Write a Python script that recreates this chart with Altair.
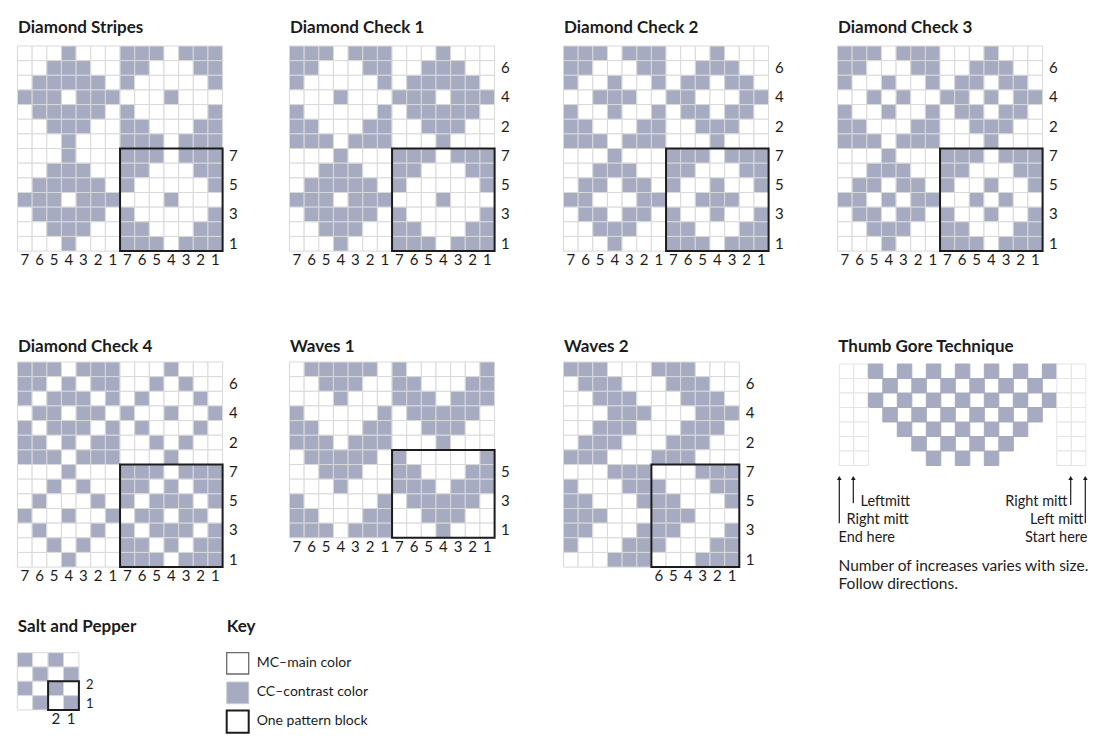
import altair as alt
import pandas as pd

# ---------------- pattern data ('#' = contrast colour, '.' = main colour) ----------------
DIAMOND_STRIPES = [
    "...#...###.###",
    "..###..##...##",
    ".#####.#.....#",
    "###.###...#...",
    ".#####.#.....#",
    "..###..##...##",
    "...#...###.###",
    "...#...###.###",
    "..###..##...##",
    ".#####.#.....#",
    "###.###...#...",
    ".#####.#.....#",
    "..###..##...##",
    "...#...###.###",
]
DIAMOND_CHECK_1 = [
    "###.###...#...",
    "##...##..###..",
    "#.....#.#####.",
    "...#...###.###",
    "#.....#.#####.",
    "##...##..###..",
    "###.###...#...",
    "...#...###.###",
    "..###..##...##",
    ".#####.#.....#",
    "###.###...#...",
    ".#####.#.....#",
    "..###..##...##",
    "...#...###.###",
]
DIAMOND_CHECK_2 = [
    "###.###...#...",
    "##...##..###..",
    "#..#..#.##.##.",
    "..###..##...##",
    "#..#..#.##.##.",
    "##...##..###..",
    "###.###...#...",
    "...#...###.###",
    "..###..##...##",
    ".##.##.#..#..#",
    "##...##..###..",
    ".##.##.#..#..#",
    "..###..##...##",
    "...#...###.###",
]
DIAMOND_CHECK_3 = [
    "###.###...#...",
    "##...##..###..",
    "#..#..#.##.##.",
    "..#.#..##.#.##",
    "#..#..#.##.##.",
    "##...##..###..",
    "###.###...#...",
    "...#...###.###",
    "..###..##...##",
    ".##.##.#..#..#",
    "##.#.##..#.#..",
    ".##.##.#..#..#",
    "..###..##...##",
    "...#...###.###",
]
DIAMOND_CHECK_4 = [
    "###.###...#...",
    "##.#.##..#.#..",
    "#.###.#.#...#.",
    ".##.##.#..#..#",
    "#.###.#.#...#.",
    "##.#.##..#.#..",
    "###.###...#...",
    "...#...###.###",
    "..#.#..##.#.##",
    ".#...#.#.###.#",
    "#..#..#.##.##.",
    ".#...#.#.###.#",
    "..#.#..##.#.##",
    "...#...###.###",
]
WAVES_1 = [
    ".#####.#.....#",
    "..###..##...##",
    "...#...###.###",
    "#.....#.#####.",
    "##...##..###..",
    "###.###...#...",
    ".#####.#.....#",
    "..###..##...##",
    "...#...###.###",
    "#.....#.#####.",
    "##...##..###..",
    "###.###...#...",
]
WAVES_2 = [
    "###...###...",
    ".###...###..",
    "..###...###.",
    "...###...###",
    "..###...###.",
    ".###...###..",
    "###...###...",
    "...###...###",
    "#...###...##",
    "##...###...#",
    "###...###...",
    "##...###...#",
    "#...###...##",
    "...###...###",
]
# 'o' = main colour inside the gore (no grid), ' ' = nothing drawn
THUMB_GORE = [
    "..#o#o#o#o#o#o#..",
    "..o#o#o#o#o#o#o..",
    "..#o#o#o#o#o#o#..",
    ".. #o#o#o#o#o# ..",
    "..  #o#o#o#o#  ..",
    "..   #o#o#o#   ..",
    "..    #o#o#    ..",
]
SALT_AND_PEPPER = [
    "#.#.",
    ".#.#",
    "#.#.",
    ".#.#",
]

TITLES = ["Diamond Stripes", "Diamond Check 1", "Diamond Check 2", "Diamond Check 3",
          "Diamond Check 4", "Waves 1", "Waves 2", "Thumb Gore Technique", "Salt and Pepper"]

BOTTOM_14 = ["7", "6", "5", "4", "3", "2", "1", "7", "6", "5", "4", "3", "2", "1"]
BOTTOM_W2 = ["6", "5", "4", "3", "2", "1"]
BOTTOM_SP = ["2", "1"]

RIGHT_ROWS_FULL = [1, 3, 5, 7, 9, 11, 13]
RIGHT_LABELS_FULL = ["6", "4", "2", "7", "5", "3", "1"]
RIGHT_ROWS_HALF = [7, 9, 11, 13]
RIGHT_LABELS_HALF = ["7", "5", "3", "1"]
RIGHT_ROWS_W1 = [7, 9, 11]
RIGHT_LABELS_W1 = ["5", "3", "1"]
RIGHT_ROWS_SP = [2, 3]
RIGHT_LABELS_SP = ["2", "1"]

KEY_LABELS = ["MC\u2013main color", "CC\u2013contrast color", "One pattern block"]
GORE_NOTES_LEFT = ["Leftmitt", "Right mitt", "End here"]
GORE_NOTES_RIGHT = ["Right mitt", "Left mitt", "Start here"]
GORE_FOOT = ["Number of increases varies with size.", "Follow directions."]

# ---------------- styles / layout ----------------
CC = "#a7abc1"
WHITE = "#ffffff"
GRID = "#d9d9d9"
GRID_LIGHT = "#e4e4e4"
INK = "#1c1c1c"
FONT = "Lato"
C = 14.65

# pattern, title index, x0, y0, cell w, cell h, block (c0, r0, c1, r1), bottom labels (start col), right rows/labels
PANELS = [
    (DIAMOND_STRIPES, 0, 17.5, 46, C, C, (7, 7, 14, 14), (BOTTOM_14, 0), (RIGHT_ROWS_HALF, RIGHT_LABELS_HALF)),
    (DIAMOND_CHECK_1, 1, 289.5, 46, C, C, (7, 7, 14, 14), (BOTTOM_14, 0), (RIGHT_ROWS_FULL, RIGHT_LABELS_FULL)),
    (DIAMOND_CHECK_2, 2, 563.5, 46, C, C, (7, 7, 14, 14), (BOTTOM_14, 0), (RIGHT_ROWS_FULL, RIGHT_LABELS_FULL)),
    (DIAMOND_CHECK_3, 3, 837.5, 46, C, C, (7, 7, 14, 14), (BOTTOM_14, 0), (RIGHT_ROWS_FULL, RIGHT_LABELS_FULL)),
    (DIAMOND_CHECK_4, 4, 17.5, 362, C, C, (7, 7, 14, 14), (BOTTOM_14, 0), (RIGHT_ROWS_FULL, RIGHT_LABELS_FULL)),
    (WAVES_1, 5, 289.5, 362, C, C, (7, 6, 14, 12), (BOTTOM_14, 0), (RIGHT_ROWS_W1, RIGHT_LABELS_W1)),
    (WAVES_2, 6, 563.5, 362, C, C, (6, 7, 12, 14), (BOTTOM_W2, 6), (RIGHT_ROWS_FULL, RIGHT_LABELS_FULL)),
    (SALT_AND_PEPPER, 8, 17.3, 652.7, 15.4, 14.3, (2, 2, 4, 4), (BOTTOM_SP, 2), (RIGHT_ROWS_SP, RIGHT_LABELS_SP)),
]
GORE = (THUMB_GORE, 7, 839.3, 364, 14.5, 14.5)

cells, blocks, bottom_txt, right_txt, sp_right_txt, titles = [], [], [], [], [], []


def add_cells(pattern, x0, y0, cw, chh, gore=False):
    for r, row in enumerate(pattern):
        for c, ch in enumerate(row):
            if ch in " o":
                continue
            fill = CC if ch == "#" else WHITE
            if gore:
                stroke = CC if ch == "#" else GRID_LIGHT
            else:
                stroke = GRID
            cells.append(dict(x=x0 + c * cw, x2=x0 + (c + 1) * cw,
                              y=y0 + r * chh, y2=y0 + (r + 1) * chh,
                              fill=fill, stroke=stroke))


for pattern, ti, x0, y0, cw, chh, blk, (blab, bstart), (rrows, rlabs) in PANELS:
    small = len(pattern) < 6
    add_cells(pattern, x0, y0, cw, chh)
    c0, r0, c1, r1 = blk
    blocks.append(dict(x=x0 + c0 * cw, x2=x0 + c1 * cw, y=y0 + r0 * chh, y2=y0 + r1 * chh))
    nrows = len(pattern)
    ncols = len(pattern[0])
    for i, lab in enumerate(blab):
        bottom_txt.append(dict(x=x0 + (bstart + i + 0.5) * cw, y=y0 + nrows * chh + 9, t=lab))
    for k, (rr, lab) in enumerate(zip(rrows, rlabs)):
        if small:
            sp_right_txt.append(dict(x=x0 + ncols * cw + 7, y=y0 + (rr + 0.5) * chh + (-3 if k == 0 else 1.5), t=lab))
        else:
            right_txt.append(dict(x=x0 + ncols * cw + 6.5, y=y0 + (rr + 0.5) * chh, t=lab))
    ty = y0 - 18 if y0 < 100 else (y0 - 15 if y0 < 600 else y0 - 26)
    titles.append(dict(x=x0 + 0.5, y=ty, t=TITLES[ti]))

gp, gti, gx0, gy0, gcw, gch = GORE
add_cells(gp, gx0, gy0, gcw, gch, gore=True)
titles.append(dict(x=gx0 - 1, y=347, t=TITLES[gti]))
titles.append(dict(x=226.7, y=626.7, t="Key"))

# key swatches
key_boxes = pd.DataFrame([
    dict(x=226.7, x2=248.7, y=652.7, y2=674.0, fill=WHITE, stroke="#6a6a6a", sw=1.3),
    dict(x=226.7, x2=248.7, y=682.0, y2=703.7, fill=CC, stroke="#c9cbd6", sw=1.0),
    dict(x=226.7, x2=248.7, y=710.5, y2=732.7, fill=WHITE, stroke=INK, sw=2.0),
])
key_txt = pd.DataFrame([dict(x=256.7, y=yy, t=t) for yy, t in zip([663, 692, 721], KEY_LABELS)])

# thumb gore arrows and notes
arrows = pd.DataFrame([
    dict(x=839.3, y=478, y2=523.3),
    dict(x=853.3, y=478, y2=503.3),
    dict(x=1070.7, y=478, y2=505.0),
    dict(x=1085.3, y=478, y2=523.3),
])
left_notes = pd.DataFrame([dict(x=xx, y=yy, t=t) for xx, yy, t in
                           zip([860.5, 846.5, 838.5], [501.7, 520.0, 538.3], GORE_NOTES_LEFT)])
right_notes = pd.DataFrame([dict(x=xx, y=yy, t=t) for xx, yy, t in
                            zip([1067.5, 1083.5, 1087.5], [501.7, 520.0, 538.3], GORE_NOTES_RIGHT)])
foot = pd.DataFrame([dict(x=838.5, y=yy, t=t) for yy, t in zip([565.5, 583.5], GORE_FOOT)])

# ---------------- chart ----------------
XS = alt.Scale(domain=[8, 1092], nice=False, zero=False)
YS = alt.Scale(domain=[8, 746], nice=False, zero=False, reverse=True)


def X():
    return alt.X("x:Q", scale=XS, axis=None)


def Y():
    return alt.Y("y:Q", scale=YS, axis=None)


cell_layer = alt.Chart(pd.DataFrame(cells)).mark_rect(strokeWidth=1).encode(
    x=X(), x2="x2:Q", y=Y(), y2="y2:Q",
    fill=alt.Fill("fill:N", scale=None), stroke=alt.Stroke("stroke:N", scale=None))

block_layer = alt.Chart(pd.DataFrame(blocks)).mark_rect(
    fillOpacity=0, stroke=INK, strokeWidth=2).encode(x=X(), x2="x2:Q", y=Y(), y2="y2:Q")

key_layer = alt.Chart(key_boxes).mark_rect().encode(
    x=X(), x2="x2:Q", y=Y(), y2="y2:Q",
    fill=alt.Fill("fill:N", scale=None), stroke=alt.Stroke("stroke:N", scale=None),
    strokeWidth=alt.StrokeWidth("sw:Q", scale=None))


def text_layer(df, align="left", size=14, weight="normal"):
    return alt.Chart(pd.DataFrame(df)).mark_text(
        align=align, baseline="middle", font=FONT, fontSize=size, fontWeight=weight, color=INK
    ).encode(x=X(), y=Y(), text="t:N")


title_layer = text_layer(titles, "left", 17, "bold")
bottom_layer = text_layer(bottom_txt, "center", 15)
right_layer = text_layer(right_txt, "left", 15)
sp_right_layer = text_layer(sp_right_txt, "left", 13)
key_text_layer = text_layer(key_txt, "left", 14)
left_note_layer = text_layer(left_notes, "left", 14.5)
right_note_layer = text_layer(right_notes, "right", 14.5)
foot_layer = text_layer(foot, "left", 15.5)

arrow_lines = alt.Chart(arrows).mark_rule(color=INK, strokeWidth=1.2).encode(
    x=X(), y=Y(), y2="y2:Q")
arrow_heads = alt.Chart(arrows).mark_point(
    shape="triangle-up", filled=True, size=22, color=INK, opacity=1).encode(x=X(), y=Y())

chart = alt.layer(
    cell_layer, block_layer, key_layer, title_layer, bottom_layer, right_layer, sp_right_layer,
    key_text_layer, left_note_layer, right_note_layer, foot_layer, arrow_lines, arrow_heads
).properties(
    width=1084, height=738, padding=0, autosize=alt.AutoSizeParams(type="none"),
    background="white"
).configure_view(stroke=None)

chart.save("out.html", embed_options={"renderer": "svg", "actions": False})
